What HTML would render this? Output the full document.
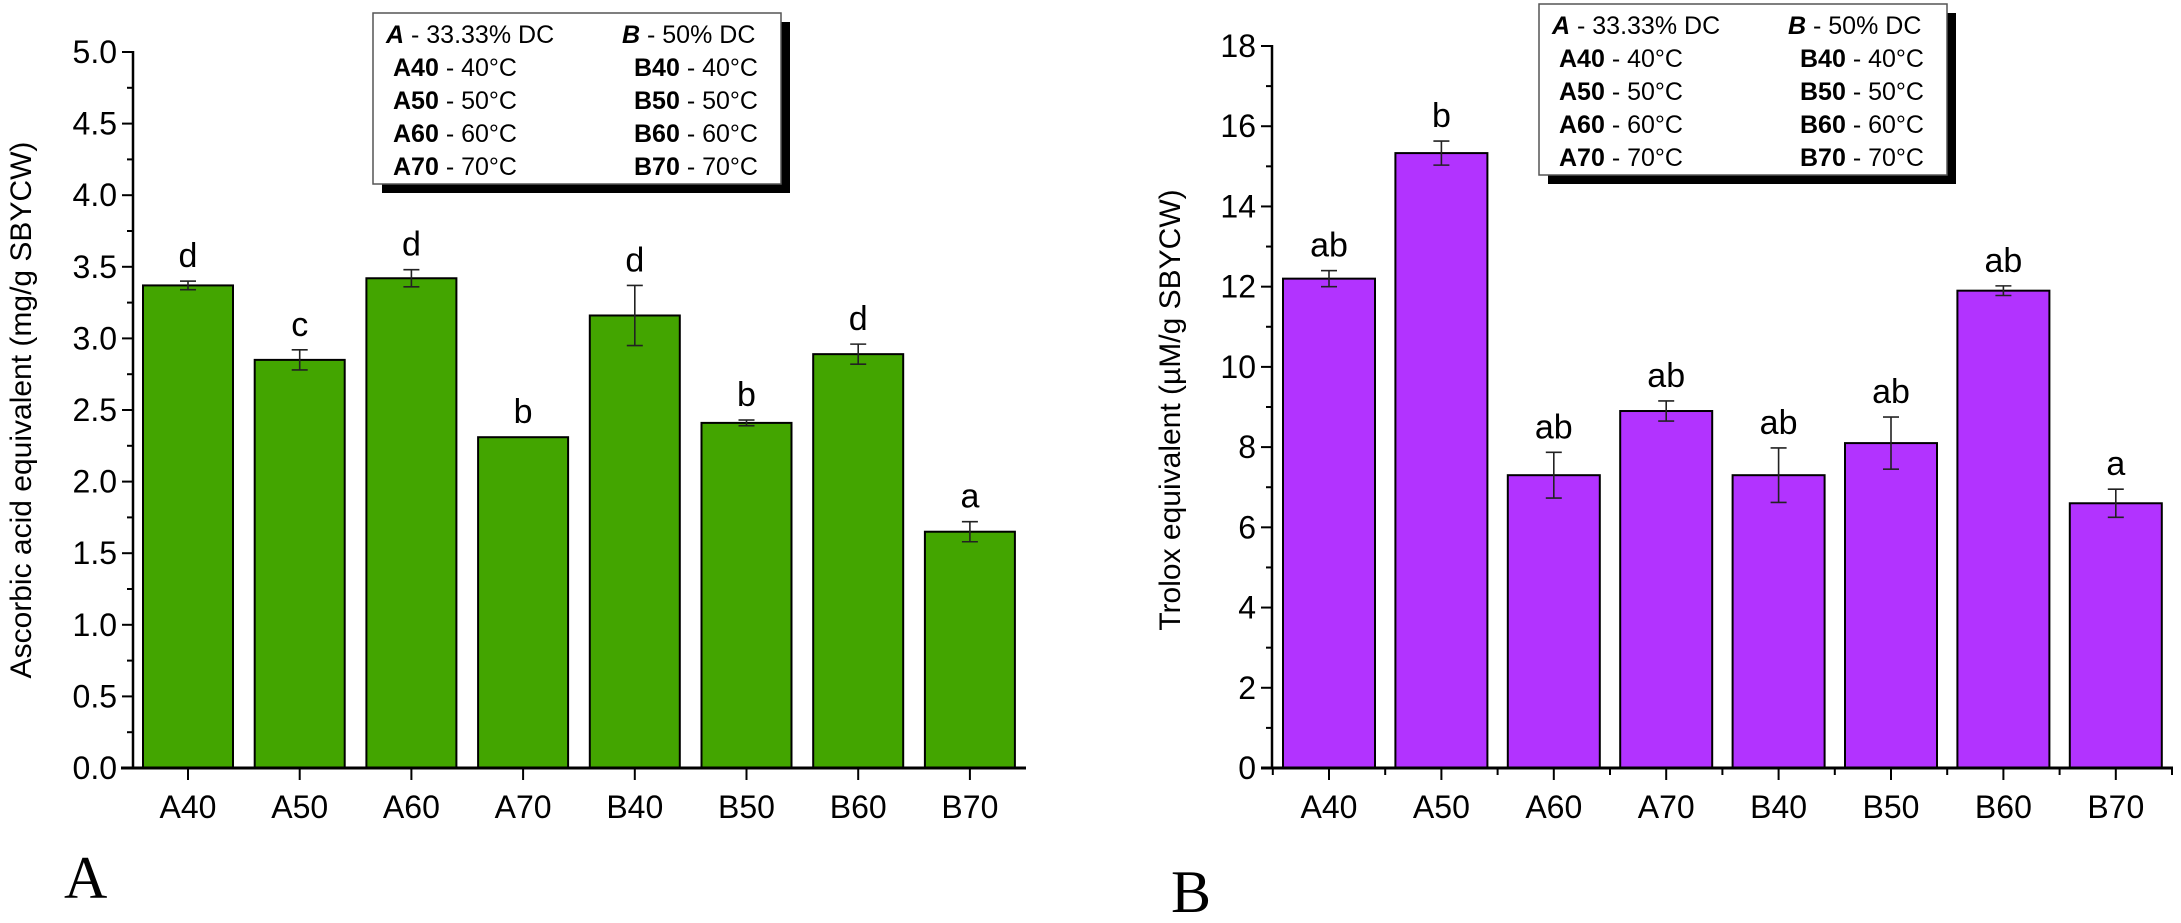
<!DOCTYPE html>
<html><head><meta charset="utf-8"><style>
html,body{margin:0;padding:0;background:#fff;}
svg{display:block;font-family:"Liberation Sans",sans-serif;}
</style></head><body>
<svg id="c" width="2181" height="923" viewBox="0 0 2181 923" xmlns="http://www.w3.org/2000/svg"></svg>
<script>
const categories=["A40","A50","A60","A70","B40","B50","B60","B70"];
const aValues=[3.37,2.85,3.42,2.31,3.16,2.41,2.89,1.65];
const aErrors=[0.03,0.07,0.06,0.0,0.21,0.02,0.07,0.07];
const aLetters=["d","c","d","b","d","b","d","a"];
const aTicks=["0.0","0.5","1.0","1.5","2.0","2.5","3.0","3.5","4.0","4.5","5.0"];
const bValues=[12.2,15.33,7.3,8.9,7.3,8.1,11.9,6.6];
const bErrors=[0.2,0.3,0.57,0.25,0.68,0.65,0.12,0.35];
const bLetters=["ab","b","ab","ab","ab","ab","ab","a"];
const bTicks=["0","2","4","6","8","10","12","14","16","18"];

const NS="http://www.w3.org/2000/svg";
const svg=document.getElementById('c');
function mk(tag,attrs,parent,text){const e=document.createElementNS(NS,tag);for(const k in attrs)e.setAttribute(k,attrs[k]);if(text!==undefined)e.textContent=text;(parent||svg).appendChild(e);return e;}

function chart(o){
  const g=mk('g',{});
  
  
  const y=v=>o.y0-(v/o.max)*(o.y0-o.yTop);
  const x=i=>o.c0+i*o.pitch;
  o.values.forEach((v,i)=>{
    const r=mk('rect',{x:x(i)-o.bw/2,y:y(v),width:o.bw,height:o.y0-y(v),fill:o.color,stroke:'#000','stroke-width':2},g);
    
    
    const e=o.errors[i];
    if(e>0){
      const eb=mk('g',{stroke:'#222','stroke-width':1.6},g);
      
      
      mk('line',{x1:x(i),x2:x(i),y1:y(v+e),y2:y(v-e)},eb);
      mk('line',{x1:x(i)-8,x2:x(i)+8,y1:y(v+e),y2:y(v+e)},eb);
      mk('line',{x1:x(i)-8,x2:x(i)+8,y1:y(v-e),y2:y(v-e)},eb);
    }
    const t=mk('text',{x:x(i),y:y(v+e)-14,'font-size':34,'text-anchor':'middle',fill:'#000'},g,o.letters[i]);
    
    
    const xl=mk('text',{x:x(i),y:o.y0+50,'font-size':32,'text-anchor':'middle',fill:'#000'},g,categories[i]);
    
    
    mk('line',{x1:x(i),x2:x(i),y1:o.y0,y2:o.y0+12,stroke:'#000','stroke-width':2},g);
    if(o.minorX){mk('line',{x1:x(i)+o.pitch/2,x2:x(i)+o.pitch/2,y1:o.y0,y2:o.y0+7,stroke:'#000','stroke-width':2},g);
      if(i===0)mk('line',{x1:x(i)-o.pitch/2,x2:x(i)-o.pitch/2,y1:o.y0,y2:o.y0+7,stroke:'#000','stroke-width':2},g);}
  });
  const ya=mk('line',{x1:o.ax,x2:o.ax,y1:o.yTop-1,y2:o.y0,stroke:'#000','stroke-width':2.5},g);
  
  const xa=mk('line',{x1:o.xa0,x2:o.xa1,y1:o.y0,y2:o.y0,stroke:'#000','stroke-width':3},g);
  
  o.ticks.forEach((t,k)=>{
    const v=parseFloat(t), yy=y(v);
    mk('line',{x1:o.ax-11,x2:o.ax,y1:yy,y2:yy,stroke:'#000','stroke-width':2},g);
    if(k<o.ticks.length-1){const ym=y(v+o.step/2);mk('line',{x1:o.ax-6,x2:o.ax,y1:ym,y2:ym,stroke:'#000','stroke-width':2},g);}
    const tl=mk('text',{x:o.ax-16,y:yy+11,'font-size':32,'text-anchor':'end',fill:'#000'},g,t);
    
  });
  const yt=mk('text',{x:0,y:0,'font-size':30,'text-anchor':'middle',fill:'#000',transform:`translate(${o.titleX},${o.titleY}) rotate(-90)`},g,o.title);
  
  const lg=mk('g',{'font-size':25},g);
  
  mk('rect',{x:o.lx+9,y:o.ly+9,width:408,height:171,fill:'#000'},lg);
  mk('rect',{x:o.lx,y:o.ly,width:408,height:171,fill:'#fff',stroke:'#555','stroke-width':1.5},lg);
  const h1=mk('text',{x:o.lx+13,y:o.ly+30},lg);
  mk('tspan',{'font-weight':'bold','font-style':'italic'},h1,'A');mk('tspan',{},h1,' - 33.33% DC');
  const h2=mk('text',{x:o.lx+249,y:o.ly+30},lg);
  mk('tspan',{'font-weight':'bold','font-style':'italic'},h2,'B');mk('tspan',{},h2,' - 50% DC');
  [40,50,60,70].forEach((d,k)=>{
    ['A','B'].forEach((p,j)=>{
      const t=mk('text',{x:o.lx+(j?261:20),y:o.ly+63+k*33},lg);
      
      
      mk('tspan',{'font-weight':'bold'},t,p+d);mk('tspan',{},t,' - '+d+'°C');
    });
  });
  const pl=mk('text',{x:o.plx,y:o.ply,'font-size':60,'font-family':'Liberation Serif, serif',fill:'#000'},g,o.panel);
  
}
chart({name:'chart-a-ascorbic-acid',values:aValues,errors:aErrors,letters:aLetters,ticks:aTicks,max:5,step:0.5,
  y0:768,yTop:52,ax:133,xa0:121,xa1:1026,c0:188,pitch:111.7,bw:90,color:'#43a500',minorX:false,
  title:'Ascorbic acid equivalent (mg/g SBYCW)',titleX:31,titleY:410,lx:373,ly:13,panel:'A',plx:64,ply:898});
chart({name:'chart-b-trolox',values:bValues,errors:bErrors,letters:bLetters,ticks:bTicks,max:18,step:2,
  y0:768,yTop:46,ax:1272,xa0:1261,xa1:2173,c0:1329,pitch:112.4,bw:92,color:'#b233ff',minorX:true,
  title:'Trolox equivalent (µM/g SBYCW)',titleX:1180,titleY:410,lx:1539,ly:4,panel:'B',plx:1171,ply:912});
</script>
</body></html>
